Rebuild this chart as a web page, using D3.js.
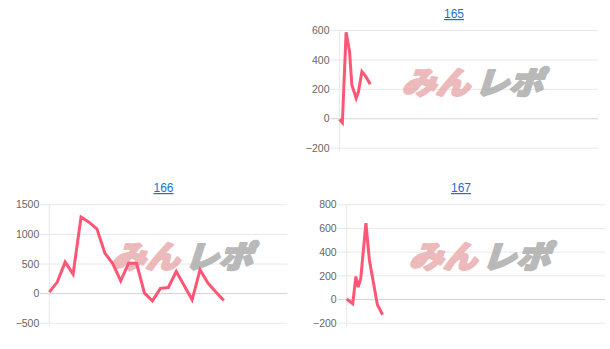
<!DOCTYPE html>
<html>
<head>
<meta charset="utf-8">
<script src="https://cdn.jsdelivr.net/npm/d3@7"></script>
<style>
  body { margin: 0; background: #fff; }
  .title { font-family: 'Liberation Sans', Arial, sans-serif; font-size: 12px; fill: #1a6fd4; text-decoration: underline; }
  .ylabel { font-family: 'Liberation Sans', Arial, sans-serif; font-size: 10.5px; fill: #666; }
  .wm { font-family: 'Noto Sans CJK JP', sans-serif; font-weight: 900; font-size: 31px; stroke-width: 2.2px; stroke-linejoin: round; }
</style>
</head>
<body>
<div id="chart"></div>
<script>
// machine 165 (x = games played)
const games165 = [0, 100, 230, 350, 430, 580, 660, 780, 920, 1070];
const diff165 = [-7, -30, 585, 453, 226, 136, 181, 317, 283, 231];
const ticks165 = [600, 400, 200, 0, -200];

// machine 166 (x = day)
const days166 = [0, 1, 2, 3, 4, 5, 6, 7, 8, 9, 10, 11, 12, 13, 14, 15, 16, 17, 18, 19, 20, 21, 22];
const diff166 = [17, 186, 524, 321, 1284, 1199, 1086, 676, 500, 208, 507, 500, 0, -130, 80, 95, 365, 128, -113, 394, 169, 17, -125];
const ticks166 = [1500, 1000, 500, 0, -500];

// machine 167 (x = games played)
const games167 = [0, 210, 320, 400, 490, 670, 790, 1070, 1250];
const diff167 = [0, -40, 190, 100, 175, 640, 330, -48, -133];
const ticks167 = [800, 600, 400, 200, 0, -200];

const titles = ['165', '166', '167'];

const W = 610, H = 349;
const lineColor = '#ff5675';

const panels = [
  { title: titles[0], xs: games165, ys: diff165, ticks: ticks165, xMax: 9000,
    left: 339.5, right: 598, top: 30, bottom: 147.7, titleX: 454, titleY: 18 },
  { title: titles[1], xs: days166, ys: diff166, ticks: ticks166, xMax: 30,
    left: 49.3, right: 287.3, top: 204.3, bottom: 322.7, titleX: 163.5, titleY: 192 },
  { title: titles[2], xs: games167, ys: diff167, ticks: ticks167, xMax: 9000,
    left: 346.7, right: 605, top: 204.3, bottom: 322.7, titleX: 461, titleY: 192 }
];

const svg = d3.select('#chart')
  .append('svg')
  .attr('width', W)
  .attr('height', H);

panels.forEach(p => {
  const g = svg.append('g');

  const scaleX = d3.scaleLinear().domain([0, p.xMax]).range([p.left, p.right]);
  const scaleY = d3.scaleLinear()
    .domain([d3.min(p.ticks), d3.max(p.ticks)])
    .range([p.bottom, p.top]);

  g.append('text')
    .attr('class', 'title')
    .attr('x', p.titleX)
    .attr('y', p.titleY)
    .attr('text-anchor', 'middle')
    .text(p.title);

  // y axis with chart.js-like gridlines
  const yAxis = d3.axisLeft(scaleY)
    .tickValues(p.ticks)
    .tickSize(-(p.right - p.left))
    .tickPadding(0)
    .tickFormat(d3.format('d'));

  const ax = g.append('g')
    .attr('transform', `translate(${p.left},0)`)
    .call(yAxis);
  ax.select('.domain').remove();
  ax.selectAll('.tick line')
    .attr('x1', -9)
    .attr('stroke', d => d === 0 ? '#d4d4d4' : '#e8e8e8')
    .attr('stroke-width', 1);
  ax.selectAll('.tick text')
    .attr('class', 'ylabel')
    .attr('x', -10)
    .attr('dy', '0.35em')
    .attr('fill', null);
  ax.attr('font-size', null).attr('font-family', null);

  g.append('line')
    .attr('x1', p.left).attr('x2', p.left)
    .attr('y1', p.top).attr('y2', p.bottom + 4)
    .attr('stroke', '#e8e8e8');

  // watermark
  const wm = g.append('g')
    .attr('transform', `translate(${p.left + 62},${p.top + 64}) skewX(-18)`)
    .attr('opacity', 0.8);
  wm.append('text')
    .attr('class', 'wm')
    .attr('x', 0)
    .attr('fill', '#e8a9a9')
    .attr('stroke', '#e8a9a9')
    .attr('textLength', 68)
    .attr('lengthAdjust', 'spacingAndGlyphs')
    .text('みん');
  wm.append('text')
    .attr('class', 'wm')
    .attr('x', 73)
    .attr('fill', '#a8a8a8')
    .attr('stroke', '#a8a8a8')
    .attr('textLength', 68)
    .attr('lengthAdjust', 'spacingAndGlyphs')
    .text('レポ');

  const line = d3.line()
    .x((d, i) => scaleX(p.xs[i]))
    .y(d => scaleY(d));

  g.append('path')
    .datum(p.ys)
    .attr('fill', 'none')
    .attr('stroke', lineColor)
    .attr('stroke-width', 3)
    .attr('stroke-linejoin', 'miter')
    .attr('d', line);
});
</script>
</body>
</html>
